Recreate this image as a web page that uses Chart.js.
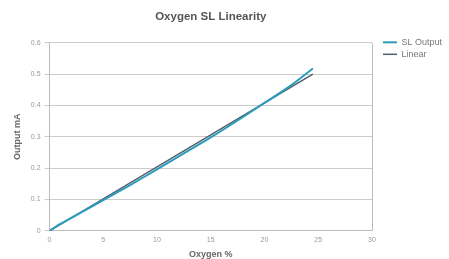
<!DOCTYPE html>
<html>
<head>
<meta charset="utf-8">
<script src="https://cdn.jsdelivr.net/npm/chart.js@4"></script>
<style>
  html, body { margin: 0; padding: 0; background: #fff; }
  #wrap { width: 449px; height: 259px; }
</style>
</head>
<body>
<div id="wrap"><canvas id="chart"></canvas></div>
<script>
const slX = [0, 1, 2.5, 5, 7.5, 10, 12.5, 15, 17.5, 20, 22.5, 24.5];
const slY = [0, 0.022, 0.05, 0.098, 0.146, 0.196, 0.247, 0.298, 0.352, 0.408, 0.465, 0.518];
const linearX = [0, 24.5];
const linearY = [0, 0.5];

const toPoints = (xs, ys) => xs.map((x, i) => ({ x: x, y: ys[i] }));

const ctx = document.getElementById("chart").getContext("2d");
new Chart(ctx, {
  type: "line",
  data: {
    datasets: [
      {
        label: "SL Output",
        data: toPoints(slX, slY),
        borderColor: "#2b9cbc",
        borderWidth: 2,
        pointRadius: 0,
        tension: 0.3,
      },
      {
        label: "Linear",
        data: toPoints(linearX, linearY),
        borderColor: "#515e6b",
        borderWidth: 1.5,
        pointRadius: 0,
      },
    ],
  },
  options: {
    responsive: true,
    maintainAspectRatio: false,
    animation: false,
    layout: { padding: { top: 4, right: -3, left: 8, bottom: -1 } },
    plugins: {
      title: {
        display: true,
        fullSize: false,
        text: "Oxygen SL Linearity",
        color: "#555",
        font: { family: "Arial, Liberation Sans", size: 11.5, weight: "bold" },
        padding: { top: 6, bottom: 19 },
      },
      legend: {
        position: "right",
        align: "start",
        title: {
          display: true,
          text: " ",
          font: { size: 9 },
          padding: { top: 11, bottom: 9 },
        },
        labels: {
          usePointStyle: true,
          pointStyle: "line",
          pointStyleWidth: 14,
          color: "#777",
          font: { family: "Arial, Liberation Sans", size: 9 },
          padding: 3,
        },
      },
      tooltip: { enabled: false },
    },
    scales: {
      x: {
        type: "linear",
        min: 0,
        max: 30,
        ticks: { stepSize: 5, color: "#999", font: { size: 7 }, padding: 5 },
        grid: { display: false, drawTicks: false },
        border: { color: "#bbb" },
        title: {
          display: true,
          text: "Oxygen %",
          color: "#666",
          font: { family: "Arial, Liberation Sans", size: 9, weight: "bold" },
          padding: { top: 0, bottom: 0 },
        },
      },
      y: {
        min: 0,
        max: 0.6,
        ticks: { stepSize: 0.1, color: "#999", font: { size: 7 }, padding: 4 },
        grid: { color: "#ccc", drawTicks: true, tickLength: 5 },
        border: { color: "#bbb" },
        title: {
          display: true,
          text: "Output mA",
          color: "#666",
          font: { family: "Arial, Liberation Sans", size: 9, weight: "bold" },
        },
      },
      gap: {
        type: "linear",
        position: "right",
        display: true,
        grid: { display: false, drawTicks: false },
        border: { display: false },
        ticks: { display: false },
        afterFit(scale) { scale.width = 8; },
      },
    },
  },
  plugins: [{
    id: "frame",
    afterDraw(chart) {
      const a = chart.chartArea, c = chart.ctx;
      c.save();
      c.strokeStyle = "#bbb";
      c.lineWidth = 1;
      c.beginPath();
      c.moveTo(a.right + 0.5, a.top);
      c.lineTo(a.right + 0.5, a.bottom);
      c.stroke();
      c.restore();
    },
  }],
});
</script>
</body>
</html>
